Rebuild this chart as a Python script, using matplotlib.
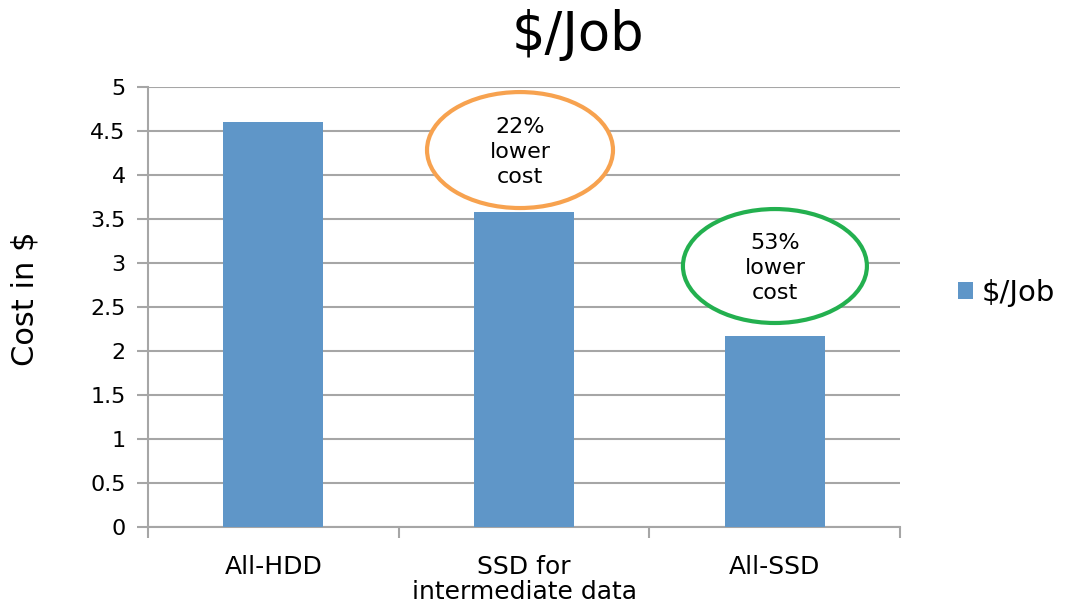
import matplotlib
matplotlib.use("Agg")
import matplotlib.pyplot as plt
from matplotlib.patches import Ellipse
import numpy as np

categories = ["All-HDD", "SSD for\nintermediate data", "All-SSD"]
values = [4.60, 3.58, 2.17]
series_name = r"\$/Job"
title = r"\$/Job"
ylabel = r"Cost in \$"
yticks = [0, 0.5, 1, 1.5, 2, 2.5, 3, 3.5, 4, 4.5, 5]
ytick_labels = ["0", "0.5", "1", "1.5", "2", "2.5", "3", "3.5", "4", "4.5", "5"]
notes = ["22%\nlower\ncost", "53%\nlower\ncost"]

FONT = "DejaVu Sans"
GRID = "#A6A6A6"

fig = plt.figure(figsize=(10.68, 6.13), dpi=100)
ax = fig.add_axes([0.1386, 0.1403, 0.7041, 0.7177])

x = np.arange(len(categories))
ax.bar(x, values, width=0.4, color="#5F96C8", label=series_name, zorder=3)

ax.set_xlim(-0.5, 2.5)
ax.set_ylim(0, 5)
ax.set_yticks(yticks)
ax.set_yticklabels(ytick_labels, fontsize=16, family=FONT)
ax.yaxis.grid(True, color=GRID, linewidth=1.5, zorder=0)
ax.set_axisbelow(True)

ax.set_xticks(x)
ax.set_xticklabels(categories, fontsize=18, family=FONT, linespacing=1.05)
ax.tick_params(axis="x", length=0, pad=20)
ax.set_xticks([-0.5, 0.5, 1.5, 2.5], minor=True)
ax.tick_params(axis="x", which="minor", length=8, width=1.5, color=GRID, direction="out")
ax.tick_params(axis="y", length=8, width=1.5, color=GRID, direction="out", pad=8)

for s in ["top", "right"]:
    ax.spines[s].set_visible(False)
for s in ["left", "bottom"]:
    ax.spines[s].set_color(GRID)
    ax.spines[s].set_linewidth(1.5)

fig.text(25 / 1068, 0.513, ylabel, rotation=90, fontsize=22, family=FONT,
         ha="center", va="center")
fig.text(0.541, 0.943, title, fontsize=38, family=FONT, ha="center", va="center")

# annotation ellipses
ell_specs = [((0.984, 4.284), 0.742, 1.318, "#F7A24F"),
             ((2.001, 2.966), 0.734, 1.295, "#23B04F")]
for (c, w, h, col), txt in zip(ell_specs, notes):
    e = Ellipse(c, w, h, facecolor="white", edgecolor=col, linewidth=3, zorder=4)
    ax.add_patch(e)
    ax.text(c[0], c[1] - 0.02, txt, ha="center", va="center", fontsize=16, family=FONT,
            linespacing=1.3, zorder=5)

fig.legend(loc="center left", bbox_to_anchor=(0.897, 0.522), frameon=False,
           borderpad=0, borderaxespad=0,
           handlelength=0.52, handleheight=0.52, handletextpad=0.28,
           prop={"family": FONT, "size": 21})

fig.savefig("out.png", dpi=100)
